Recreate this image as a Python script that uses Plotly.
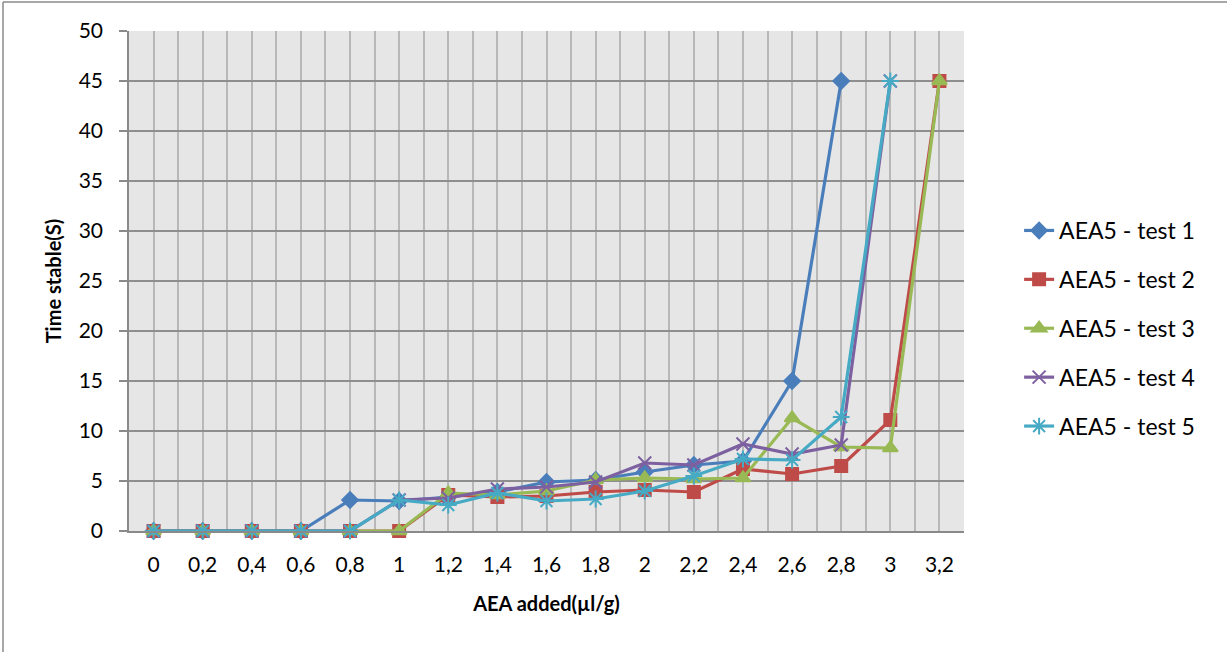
import plotly.graph_objects as go

categories = [0, 0.2, 0.4, 0.6, 0.8, 1, 1.2, 1.4, 1.6, 1.8, 2, 2.2, 2.4, 2.6, 2.8, 3, 3.2]
tick_labels = ["0", "0,2", "0,4", "0,6", "0,8", "1", "1,2", "1,4", "1,6", "1,8",
               "2", "2,2", "2,4", "2,6", "2,8", "3", "3,2"]

test1 = [0, 0, 0, 0, 3.1, 3.0, 3.4, 3.9, 4.9, 5.1, 5.9, 6.6, 7.0, 15, 45, None, None]
test2 = [0, 0, 0, 0, 0, 0, 3.6, 3.4, 3.5, 3.9, 4.1, 3.9, 6.2, 5.7, 6.5, 11.1, 45]
test3 = [0, 0, 0, 0, 0, 0, 3.8, 3.6, 4.0, 5.1, 5.3, 5.2, 5.3, 11.3, 8.4, 8.3, 45]
test4 = [0, 0, 0, 0, 0, 3.1, 3.3, 4.2, 4.4, 4.9, 6.8, 6.6, 8.7, 7.7, 8.6, 45, None]
test5 = [0, 0, 0, 0, 0, 3.1, 2.6, 3.8, 3.0, 3.2, 4.0, 5.5, 7.2, 7.1, 11.4, 45, None]

series_names = ["AEA5 - test 1", "AEA5 - test 2", "AEA5 - test 3", "AEA5 - test 4", "AEA5 - test 5"]
series_values = [test1, test2, test3, test4, test5]
colors = ["#4A7EBB", "#BE4B48", "#98B954", "#7D60A0", "#46AAC5"]
symbols = ["diamond", "square", "triangle-up", "x-thin-open", "asterisk-open"]
sizes = [12, 12, 13, 13, 14]

FONT = "Lato, 'Open Sans', sans-serif"

fig = go.Figure()
for name, vals, col, sym, sz in zip(series_names, series_values, colors, symbols, sizes):
    fig.add_trace(go.Scatter(
        x=categories, y=vals, name=name, mode="lines+markers",
        legendgroup=name,
        line=dict(color=col, width=3.2),
        marker=dict(symbol=sym, size=sz, color=col, line=dict(color=col, width=2)),
        cliponaxis=False,
    ))

boundaries = [c - 0.1 for c in categories] + [categories[-1] + 0.1]

fig.update_layout(
    width=1227, height=652,
    margin=dict(l=129, r=263, t=31, b=121),
    paper_bgcolor="white",
    plot_bgcolor="#E6E6E6",
    font=dict(family=FONT, size=21, color="black"),
    showlegend=True,
    legend=dict(
        x=1.066, y=0.405, xanchor="left", yanchor="middle",
        font=dict(family=FONT, size=23, color="black"),
        tracegroupgap=16, bgcolor="rgba(0,0,0,0)",
    ),
    xaxis=dict(
        range=[-0.1, 3.3],
        tickmode="array", tickvals=categories, ticktext=tick_labels,
        showgrid=True, gridcolor="#B8B8B8", gridwidth=1.5,
        minor=dict(tickmode="array", tickvals=boundaries, showgrid=True,
                   gridcolor="#B8B8B8", gridwidth=1.5, ticks=""),
        ticks="", ticklabelstandoff=14,
        showline=True, linecolor="#8A8A8A", linewidth=1.5,
        zeroline=False,
        tickfont=dict(family=FONT, size=21),
        title=dict(text="<b>AEA added(µl/g)</b>", font=dict(family=FONT, size=20), standoff=22),
    ),
    yaxis=dict(
        range=[0, 50], dtick=5, tick0=0,
        showgrid=True, gridcolor="#8E8E8E", gridwidth=1.5,
        ticks="outside", ticklen=8, tickcolor="#8A8A8A", tickwidth=1.5,
        ticklabelstandoff=12,
        showline=True, linecolor="#8A8A8A", linewidth=1.5,
        zeroline=False,
        tickfont=dict(family=FONT, size=21),
        title=dict(text="<b>Time stable(S)</b>", font=dict(family=FONT, size=20), standoff=12),
    ),
    shapes=[
        dict(type="line", xref="paper", yref="paper", x0=-0.1509, x1=-0.1509, y0=-0.25, y1=1.058,
             line=dict(color="#8A8A8A", width=1.5)),
        dict(type="line", xref="paper", yref="paper", x0=-0.1509, x1=1.32, y0=1.058, y1=1.058,
             line=dict(color="#8A8A8A", width=1.5)),
    ],
)

fig.write_html("out.html")
